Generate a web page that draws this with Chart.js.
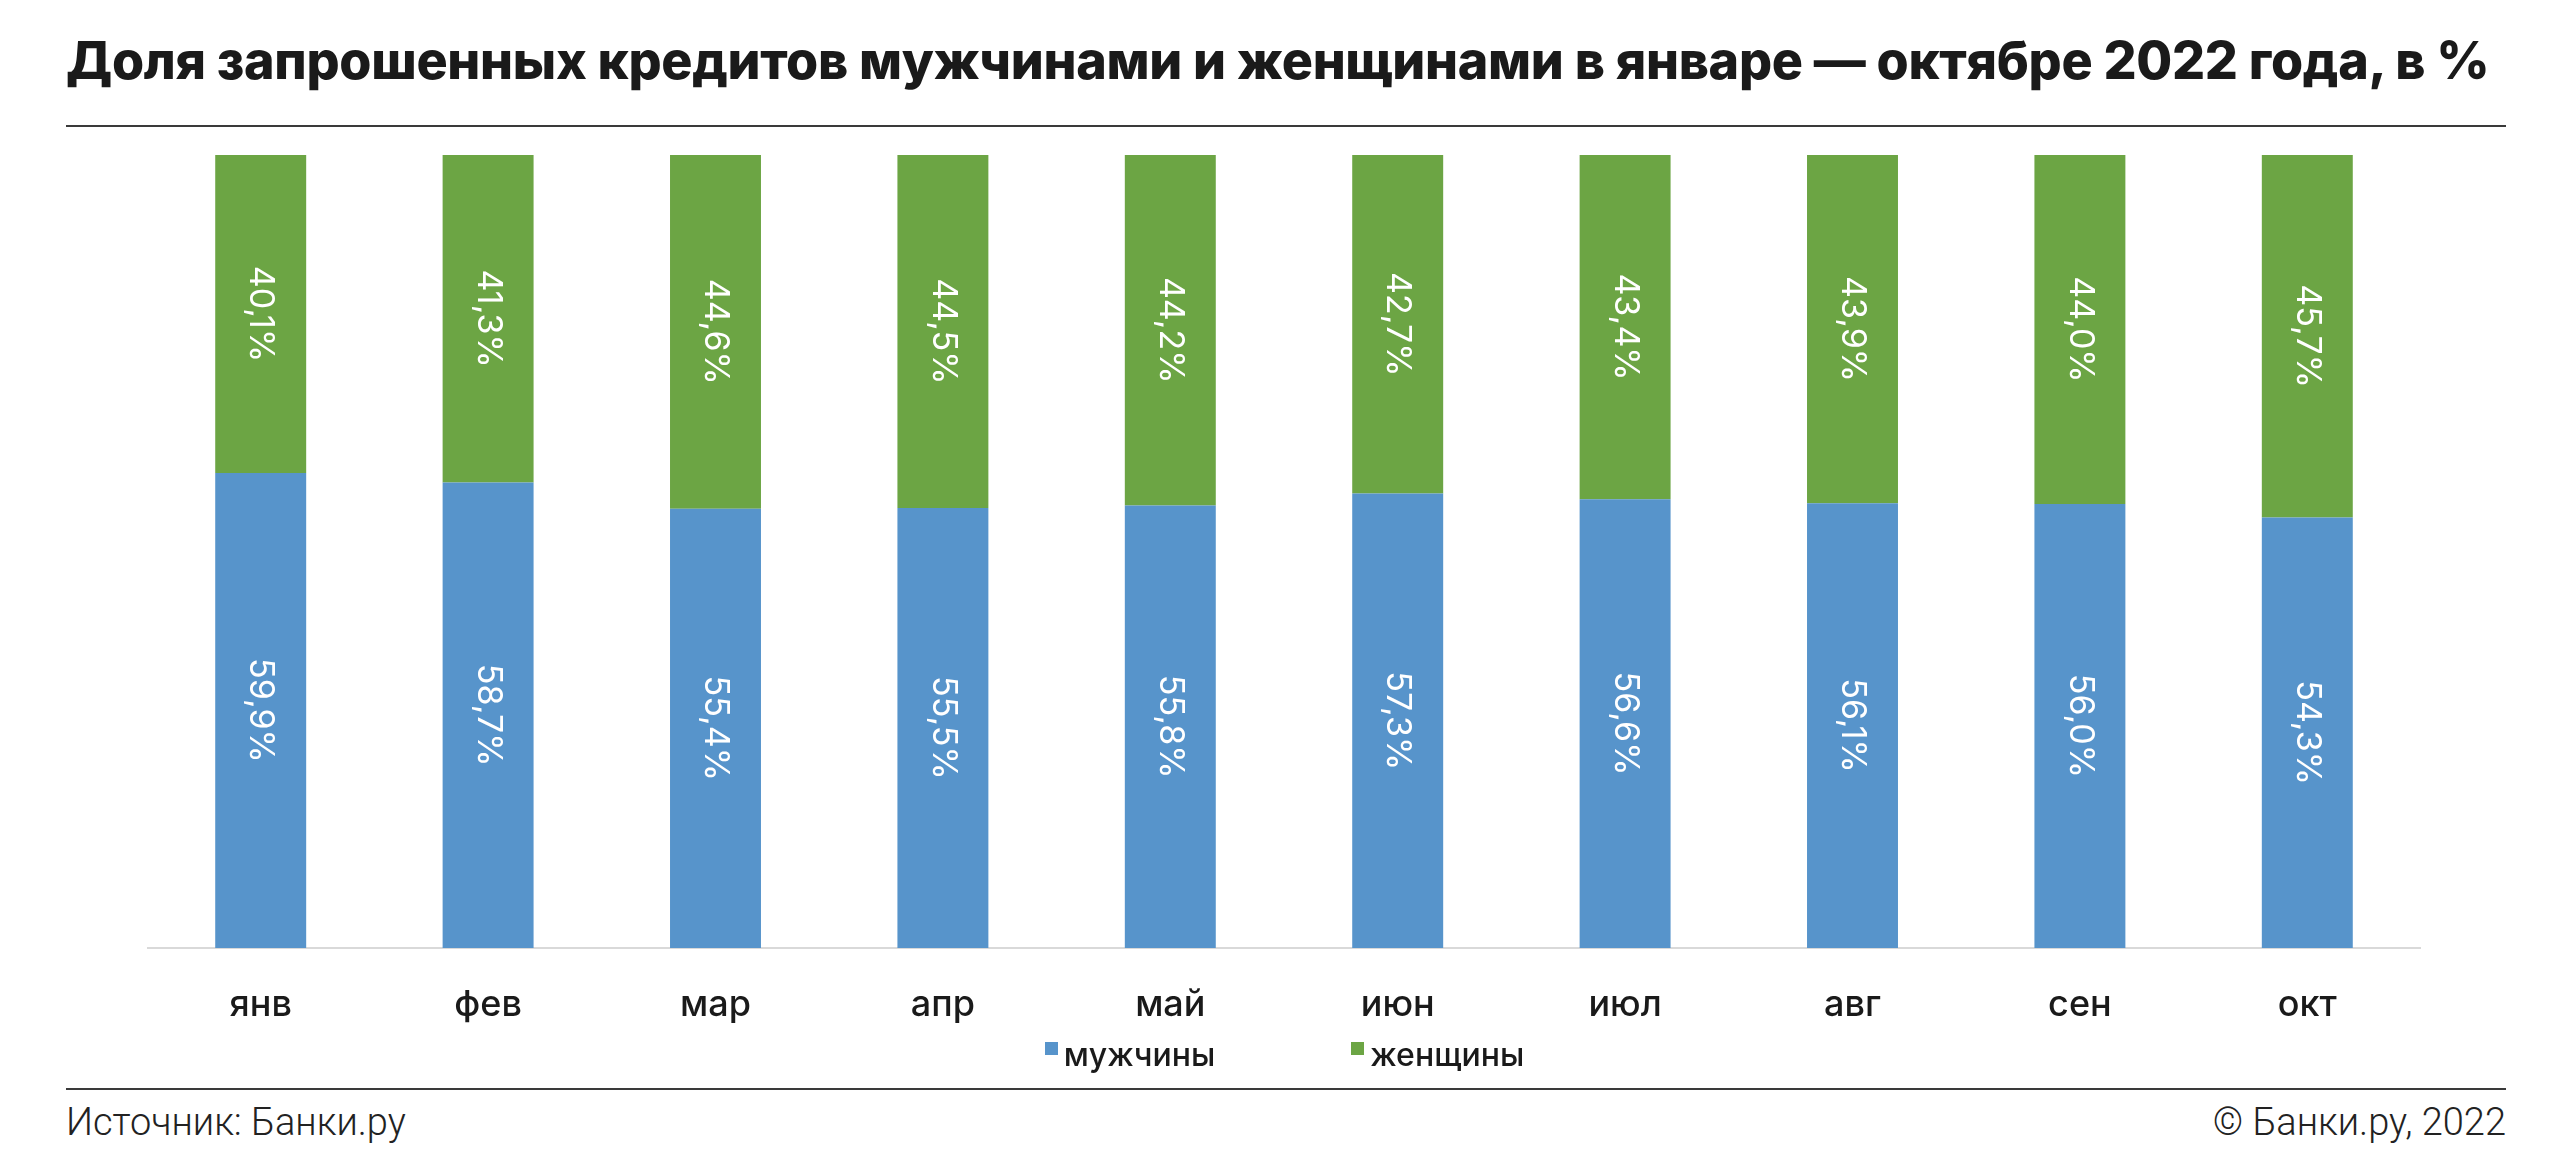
<!DOCTYPE html>
<html lang="ru">
<head>
<meta charset="utf-8">
<title>Доля запрошенных кредитов</title>
<script src="https://cdn.jsdelivr.net/npm/chart.js@4/dist/chart.umd.min.js"></script>
<style>
  html, body { margin: 0; padding: 0; background: #fff; }
  body { width: 2569px; height: 1171px; position: relative; overflow: hidden; font-family: Inter, "Noto Sans", sans-serif; color: #1a1a1a; }
  #title { position: absolute; left: 66px; top: 28px; font-size: 52px; font-weight: 800; white-space: nowrap; letter-spacing: -0.3px; line-height: 66px; }
  .rule { position: absolute; left: 66px; width: 2440px; height: 2px; background: #3a3a3a; }
  #wrap { position: absolute; left: 147px; top: 155px; width: 2274px; height: 893px; }
  #legend { position: absolute; top: 1034px; left: 0; width: 2569px; display: flex; justify-content: center; font-size: 32px; font-weight: 500; }
  .item { display: flex; align-items: flex-start; margin: 0 68px; line-height: 42px; }
  .box { width: 13px; height: 13px; margin: 8px 6px 0 0; }
  .foot { position: absolute; top: 1097px; font-family: Roboto, sans-serif; font-weight: 300; font-size: 38px; color: #222; line-height: 50px; }
</style>
</head>
<body>
<div id="title">Доля запрошенных кредитов мужчинами и женщинами в январе — октябре 2022 года, в %</div>
<div class="rule" style="top:125px"></div>
<div id="wrap"><canvas id="chart"></canvas></div>
<div id="legend"></div>
<div class="rule" style="top:1088px"></div>
<div class="foot" style="left:66px">Источник: Банки.ру</div>
<div class="foot" style="right:63px">© Банки.ру, 2022</div>
<script>
const months = ["янв", "фев", "мар", "апр", "май", "июн", "июл", "авг", "сен", "окт"];
const men = [59.9, 58.7, 55.4, 55.5, 55.8, 57.3, 56.6, 56.1, 56.0, 54.3];
const women = [40.1, 41.3, 44.6, 44.5, 44.2, 42.7, 43.4, 43.9, 44.0, 45.7];
const seriesNames = ["мужчины", "женщины"];
const seriesColors = ["#5794cb", "#6ca544"];

function fmt(v) {
  return v.toFixed(1).replace(".", ",") + "%";
}

// подписи внутри столбцов, повернутые на 90°
const barLabels = {
  id: "barLabels",
  afterDatasetsDraw(chart) {
    const ctx = chart.ctx;
    ctx.save();
    ctx.fillStyle = "#fff";
    ctx.font = "400 34px Inter, 'Noto Sans', sans-serif";
    ctx.textAlign = "center";
    ctx.textBaseline = "middle";
    chart.data.datasets.forEach((ds, i) => {
      chart.getDatasetMeta(i).data.forEach((bar, j) => {
        const y = (bar.y + bar.base) / 2;
        ctx.save();
        ctx.translate(bar.x, y);
        ctx.rotate(Math.PI / 2);
        ctx.fillText(fmt(ds.data[j]), 0, 0);
        ctx.restore();
      });
    });
    ctx.restore();
  }
};

new Chart(document.getElementById("chart"), {
  type: "bar",
  data: {
    labels: months,
    datasets: [
      { label: seriesNames[0], data: men, backgroundColor: seriesColors[0] },
      { label: seriesNames[1], data: women, backgroundColor: seriesColors[1] }
    ]
  },
  options: {
    responsive: true,
    maintainAspectRatio: false,
    animation: false,
    layout: { padding: 0 },
    datasets: { bar: { categoryPercentage: 1, barPercentage: 0.4 } },
    plugins: { legend: { display: false }, tooltip: { enabled: false } },
    scales: {
      x: {
        stacked: true,
        grid: { display: false },
        border: { display: true, color: "#d9d9d9", width: 2 },
        ticks: { color: "#1a1a1a", padding: 28, font: { family: "Inter", size: 36, weight: 500 } },
        afterFit: s => { s.height = 100; }
      },
      y: { stacked: true, display: false, min: 0, max: 100 }
    }
  },
  plugins: [barLabels]
});

const legend = document.getElementById("legend");
seriesNames.forEach((name, i) => {
  const item = document.createElement("div");
  item.className = "item";
  item.innerHTML = `<span class="box" style="background:${seriesColors[i]}"></span><span>${name}</span>`;
  legend.appendChild(item);
});
</script>
</body>
</html>
